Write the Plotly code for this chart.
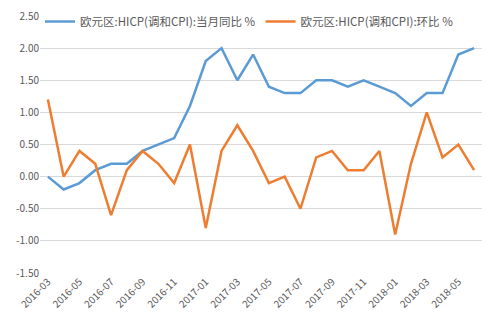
import plotly.graph_objects as go

months = ["2016-03","2016-04","2016-05","2016-06","2016-07","2016-08","2016-09","2016-10","2016-11","2016-12",
          "2017-01","2017-02","2017-03","2017-04","2017-05","2017-06","2017-07","2017-08","2017-09","2017-10",
          "2017-11","2017-12","2018-01","2018-02","2018-03","2018-04","2018-05","2018-06"]
yoy = [0.0,-0.2,-0.1,0.1,0.2,0.2,0.4,0.5,0.6,1.1,
       1.8,2.0,1.5,1.9,1.4,1.3,1.3,1.5,1.5,1.4,
       1.5,1.4,1.3,1.1,1.3,1.3,1.9,2.0]
mom = [1.2,0.0,0.4,0.2,-0.6,0.1,0.4,0.2,-0.1,0.5,
       -0.8,0.4,0.8,0.4,-0.1,0.0,-0.5,0.3,0.4,0.1,
       0.1,0.4,-0.9,0.2,1.0,0.3,0.5,0.1]
name_yoy = "欧元区:HICP(调和CPI):当月同比 %"
name_mom = "欧元区:HICP(调和CPI):环比 %"
tick_labels = months[::2]
yticks = [-1.5,-1.0,-0.5,0.0,0.5,1.0,1.5,2.0,2.5]

font_family = "Noto Sans CJK SC, Noto Sans, sans-serif"
gray = "#595959"

fig = go.Figure()
fig.add_trace(go.Scatter(x=months, y=yoy, mode="lines", name=name_yoy,
                         line=dict(color="#5B9BD5", width=2.5)))
fig.add_trace(go.Scatter(x=months, y=mom, mode="lines", name=name_mom,
                         line=dict(color="#ED7D31", width=2.5)))

fig.update_layout(
    width=489, height=333,
    margin=dict(l=40, r=7, t=12, b=60),
    paper_bgcolor="white", plot_bgcolor="white",
    font=dict(family=font_family, color=gray, size=11),
    legend=dict(orientation="h", x=0.0, y=1.035, xanchor="left", yanchor="top",
                bgcolor="white", font=dict(size=11.5, color=gray),
                itemwidth=30, tracegroupgap=0),
    showlegend=True,
)
fig.update_xaxes(type="category", range=[-0.5, len(months)-0.5],
                 tickmode="array", tickvals=tick_labels, ticktext=tick_labels,
                 tickangle=-45, showgrid=False, showline=False, zeroline=False,
                 tickfont=dict(size=10, color=gray), ticks="")
fig.update_yaxes(range=[-1.5, 2.5], tickmode="array", tickvals=yticks,
                 ticktext=[f"{v:.2f}" for v in yticks],
                 showgrid=True, gridcolor="#D9D9D9", gridwidth=1, zeroline=False,
                 showline=False, tickfont=dict(size=10, color=gray), ticks="")

fig.write_html("out.html")
